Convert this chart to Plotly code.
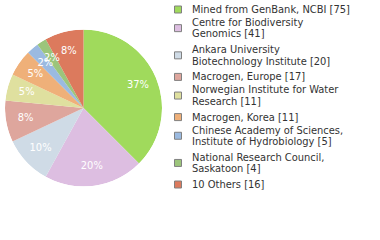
import plotly.graph_objects as go

legend_lines = [
    ["Mined from GenBank, NCBI [75]"],
    ["Centre for Biodiversity", "Genomics [41]"],
    ["Ankara University", "Biotechnology Institute [20]"],
    ["Macrogen, Europe [17]"],
    ["Norwegian Institute for Water", "Research [11]"],
    ["Macrogen, Korea [11]"],
    ["Chinese Academy of Sciences,", "Institute of Hydrobiology [5]"],
    ["National Research Council,", "Saskatoon [4]"],
    ["10 Others [16]"],
]
labels = [" ".join(l) for l in legend_lines]
values = [75, 41, 20, 17, 11, 11, 5, 4, 16]
colors = ["#a0da5c", "#ddbee1", "#cfdbe6", "#dea69d", "#dfe09f",
          "#efb079", "#9bbae0", "#9cc57b", "#dc7a5d"]

total = sum(values)
pct_text = [f"{int(v * 100 // total)}%" for v in values]
widths = [v / total * 360 for v in values]
mids, acc = [], 0.0
for w in widths:
    mids.append(acc + w / 2)
    acc += w

W, H = 380, 240
dom = dict(x=[5 / W, 162 / W], y=[53 / H, 211 / H])

fig = go.Figure()
fig.add_trace(go.Barpolar(
    r=[1] * len(values), theta=mids, width=widths, base=0,
    marker=dict(color=colors, line=dict(width=0)),
    text=labels, hoverinfo="text", showlegend=False,
))
fig.add_trace(go.Scatterpolar(
    r=[0.75] * len(values), theta=mids, mode="text", text=pct_text,
    textposition="middle center",
    textfont=dict(family="DejaVu Sans Condensed", size=11, color="white"),
    hoverinfo="skip", showlegend=False,
))

# Legend drawn as squares + text lines
line_h = 11.3
y = 9.5  # centre of first line (px from top)
shapes, annots = [], []
for lines, col in zip(legend_lines, colors):
    n = len(lines)
    mid = y + (n - 1) * line_h / 2
    shapes.append(dict(
        type="rect", xref="paper", yref="paper",
        x0=174.5 / W, x1=181.5 / W,
        y0=1 - (mid + 3.5) / H, y1=1 - (mid - 3.5) / H,
        fillcolor=col, line=dict(color="#808080", width=1),
    ))
    for i, t in enumerate(lines):
        annots.append(dict(
            text=t, xref="paper", yref="paper",
            x=190 / W, y=1 - (y + i * line_h) / H,
            xanchor="left", yanchor="middle", showarrow=False,
            font=dict(family="DejaVu Sans Condensed", size=11, color="#333333"),
        ))
    y += 13.0 if n == 1 else 27.2

fig.update_layout(
    width=W, height=H,
    margin=dict(l=0, r=0, t=0, b=0),
    paper_bgcolor="white",
    showlegend=False,
    polar=dict(
        domain=dom, bgcolor="rgba(0,0,0,0)", bargap=0,
        radialaxis=dict(range=[0, 1], visible=False, showgrid=False),
        angularaxis=dict(rotation=90, direction="clockwise", visible=False,
                         showgrid=False),
    ),
    shapes=shapes, annotations=annots,
)
fig.write_html("out.html")
